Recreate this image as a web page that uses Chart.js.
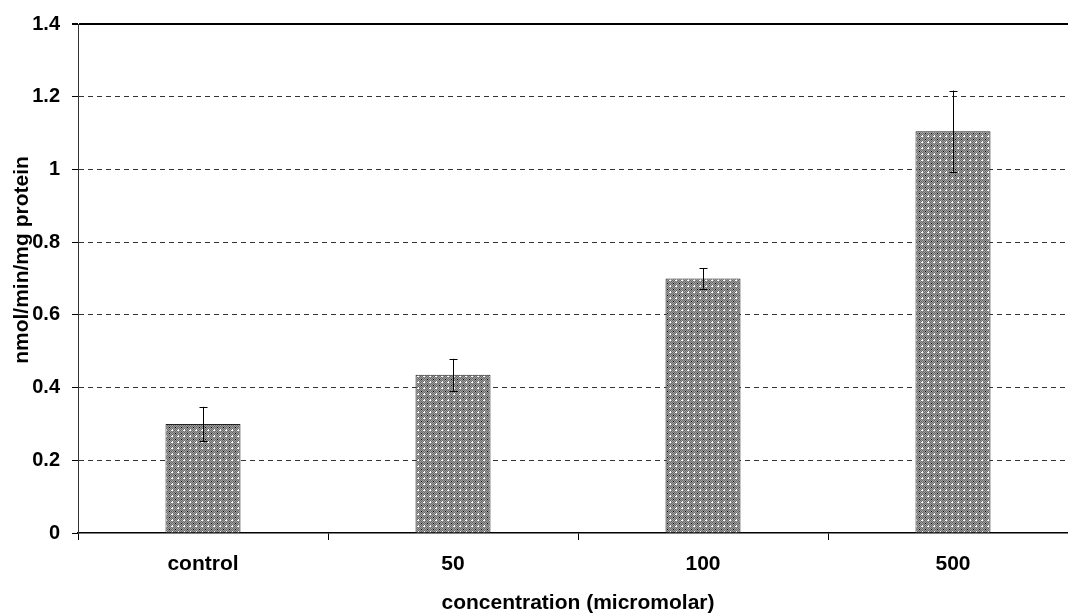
<!DOCTYPE html>
<html>
<head>
<meta charset="utf-8">
<script src="https://cdn.jsdelivr.net/npm/chart.js@4.4.1/dist/chart.umd.min.js"></script>
<style>
  html, body { margin: 0; padding: 0; background: #fff; overflow: hidden; }
  #wrap { width: 1068px; height: 616px; overflow: hidden; }
</style>
</head>
<body>
<div id="wrap">
  <canvas id="chart" width="1080" height="616"></canvas>
</div>
<script>
const categories = ['control', '50', '100', '500'];
const values = [0.30, 0.435, 0.70, 1.105];
const errors = [0.047, 0.044, 0.028, 0.112];
const yTicks = [0, 0.2, 0.4, 0.6, 0.8, 1, 1.2, 1.4];

const FONT = '"Liberation Sans", Arial, sans-serif';

// dotted grey fill like the old Excel pattern
function makePattern() {
    const c = document.createElement('canvas');
    c.width = 6; c.height = 6;
    const g = c.getContext('2d');
    for (let y = 0; y < 6; y++) {
        for (let x = 0; x < 6; x++) {
            g.fillStyle = (x + y) % 2 === 0 ? '#6a6a6a' : '#a0a0a0';
            g.fillRect(x, y, 1, 1);
        }
    }
    g.fillStyle = '#000';
    g.fillRect(1, 1, 1, 1);
    g.fillStyle = '#fff';
    g.fillRect(4, 4, 1, 1);
    g.fillRect(3, 4, 1, 1);
    g.fillRect(4, 3, 1, 1);
    return g.createPattern(c, 'repeat');
}

const errorBars = {
    id: 'errorBars',
    afterDatasetsDraw(chart) {
        const ctx = chart.ctx;
        const meta = chart.getDatasetMeta(0);
        const yScale = chart.scales.y;
        ctx.save();
        ctx.strokeStyle = '#000';
        ctx.lineWidth = 1;
        meta.data.forEach((bar, i) => {
            const x = Math.round(bar.x) + 0.5;
            const top = yScale.getPixelForValue(values[i] + errors[i]);
            const bot = yScale.getPixelForValue(values[i] - errors[i]);
            ctx.beginPath();
            ctx.moveTo(x, top);
            ctx.lineTo(x, bot);
            ctx.moveTo(x - 4, Math.round(top) + 0.5);
            ctx.lineTo(x + 4, Math.round(top) + 0.5);
            ctx.moveTo(x - 4, Math.round(bot) + 0.5);
            ctx.lineTo(x + 4, Math.round(bot) + 0.5);
            ctx.stroke();
        });
        ctx.restore();
    }
};

const yTitle = {
    id: 'yTitle',
    afterDraw(chart) {
        const ctx = chart.ctx;
        ctx.save();
        ctx.translate(22, 260);
        ctx.rotate(-Math.PI / 2);
        ctx.font = 'bold 21px ' + FONT;
        ctx.fillStyle = '#000';
        ctx.textAlign = 'center';
        ctx.textBaseline = 'middle';
        ctx.fillText('nmol/min/mg protein', 0, 0);
        ctx.restore();
    }
};

const ctx = document.getElementById('chart').getContext('2d');

new Chart(ctx, {
    type: 'bar',
    data: {
        labels: categories,
        datasets: [{
            data: values,
            backgroundColor: makePattern(),
            borderColor: '#222',
            borderWidth: 1,
            categoryPercentage: 1,
            barPercentage: 0.3
        }]
    },
    options: {
        responsive: false,
        animation: false,
        layout: { autoPadding: false, padding: { top: 19, right: 2, left: 0, bottom: 0 } },
        plugins: {
            legend: { display: false },
            tooltip: { enabled: false }
        },
        scales: {
            x: {
                grid: {
                    offset: true,
                    drawOnChartArea: false,
                    drawTicks: true,
                    tickLength: 7,
                    color: '#000'
                },
                border: { display: true, color: '#000', width: 1.5 },
                ticks: {
                    color: '#000',
                    padding: 12,
                    font: { family: FONT, size: 21, weight: 'bold' }
                },
                title: {
                    display: true,
                    text: 'concentration (micromolar)',
                    color: '#000',
                    padding: { top: 0, bottom: 0 },
                    font: { family: FONT, size: 21, weight: 'bold' }
                },
                afterFit(scale) { scale.height = 83; }
            },
            y: {
                min: 0,
                max: 1.4,
                afterBuildTicks(scale) {
                    scale.ticks = yTicks.map(v => ({ value: v }));
                },
                grid: {
                    color(c) {
                        if (c.tick && c.tick.value === 0) return 'rgba(0,0,0,0)';
                        if (c.tick && c.tick.value === 1.4) return '#000';
                        return '#333';
                    },
                    lineWidth(c) {
                        return c.tick && c.tick.value === 1.4 ? 2 : 1;
                    },
                    tickColor: '#000',
                    tickLength: 6,
                    drawTicks: true
                },
                border: {
                    display: true,
                    color: '#333',
                    width: 1,
                    dash(c) {
                        return c.tick && c.tick.value === 1.4 ? [] : [5, 4];
                    }
                },
                ticks: {
                    color: '#000',
                    padding: 12,
                    font: { family: FONT, size: 20, weight: 'bold' },
                    callback: v => String(v)
                },
                afterFit(scale) { scale.width = 78; }
            }
        }
    },
    plugins: [errorBars, yTitle]
});
</script>
</body>
</html>
